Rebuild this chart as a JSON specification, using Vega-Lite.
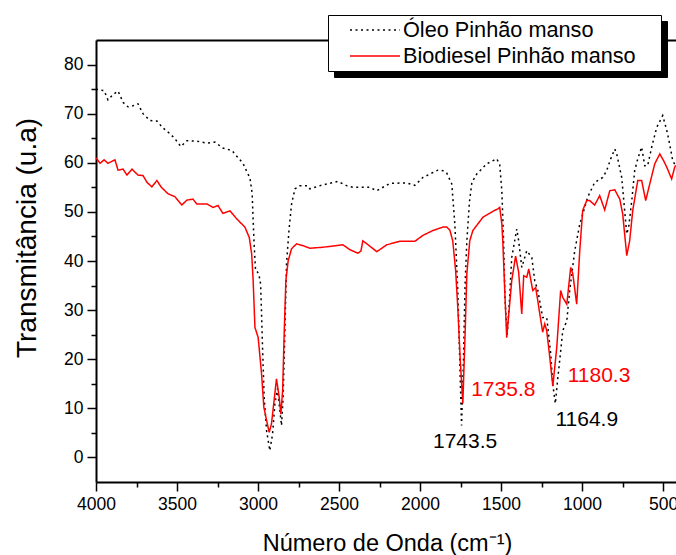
{
  "$schema": "https://vega.github.io/schema/vega-lite/v6.json",
  "width": 580,
  "height": 442,
  "autosize": {"type": "none"},
  "padding": {"left": 96, "top": 40, "right": 0, "bottom": 73},
  "config": {
    "view": {"stroke": null},
    "axis": {"grid": false, "domainColor": "black", "tickColor": "black", "labelColor": "black", "titleColor": "black", "labelFont": "Liberation Sans", "titleFont": "Liberation Sans", "titleFontWeight": "normal", "domainWidth": 2, "tickWidth": 1.5, "labelFontSize": 17.5, "titleFontSize": 23.5}
  },
  "datasets": {
    "spectra": [
      {"series": "Óleo Pinhão manso", "wavenumber": 4000, "transmittance": 75},
      {"series": "Óleo Pinhão manso", "wavenumber": 3975, "transmittance": 74.8},
      {"series": "Óleo Pinhão manso", "wavenumber": 3950, "transmittance": 74.7},
      {"series": "Óleo Pinhão manso", "wavenumber": 3926, "transmittance": 72.8},
      {"series": "Óleo Pinhão manso", "wavenumber": 3895, "transmittance": 73.9},
      {"series": "Óleo Pinhão manso", "wavenumber": 3864, "transmittance": 74.6},
      {"series": "Óleo Pinhão manso", "wavenumber": 3833, "transmittance": 72.3},
      {"series": "Óleo Pinhão manso", "wavenumber": 3803, "transmittance": 71.4},
      {"series": "Óleo Pinhão manso", "wavenumber": 3772, "transmittance": 71.6},
      {"series": "Óleo Pinhão manso", "wavenumber": 3741, "transmittance": 72},
      {"series": "Óleo Pinhão manso", "wavenumber": 3710, "transmittance": 70},
      {"series": "Óleo Pinhão manso", "wavenumber": 3667, "transmittance": 68.6},
      {"series": "Óleo Pinhão manso", "wavenumber": 3624, "transmittance": 68.5},
      {"series": "Óleo Pinhão manso", "wavenumber": 3587, "transmittance": 67.1},
      {"series": "Óleo Pinhão manso", "wavenumber": 3543, "transmittance": 65.9},
      {"series": "Óleo Pinhão manso", "wavenumber": 3513, "transmittance": 64.9},
      {"series": "Óleo Pinhão manso", "wavenumber": 3476, "transmittance": 63.3},
      {"series": "Óleo Pinhão manso", "wavenumber": 3439, "transmittance": 64.5},
      {"series": "Óleo Pinhão manso", "wavenumber": 3377, "transmittance": 64.4},
      {"series": "Óleo Pinhão manso", "wavenumber": 3315, "transmittance": 64},
      {"series": "Óleo Pinhão manso", "wavenumber": 3266, "transmittance": 64.2},
      {"series": "Óleo Pinhão manso", "wavenumber": 3217, "transmittance": 63},
      {"series": "Óleo Pinhão manso", "wavenumber": 3161, "transmittance": 62.5},
      {"series": "Óleo Pinhão manso", "wavenumber": 3130, "transmittance": 61.3},
      {"series": "Óleo Pinhão manso", "wavenumber": 3093, "transmittance": 59.9},
      {"series": "Óleo Pinhão manso", "wavenumber": 3062, "transmittance": 57.7},
      {"series": "Óleo Pinhão manso", "wavenumber": 3050, "transmittance": 57},
      {"series": "Óleo Pinhão manso", "wavenumber": 3036, "transmittance": 53.7},
      {"series": "Óleo Pinhão manso", "wavenumber": 3030, "transmittance": 48.2},
      {"series": "Óleo Pinhão manso", "wavenumber": 3023, "transmittance": 42.8},
      {"series": "Óleo Pinhão manso", "wavenumber": 3015, "transmittance": 38},
      {"series": "Óleo Pinhão manso", "wavenumber": 3005, "transmittance": 37.8},
      {"series": "Óleo Pinhão manso", "wavenumber": 2995, "transmittance": 37.4},
      {"series": "Óleo Pinhão manso", "wavenumber": 2984, "transmittance": 35.3},
      {"series": "Óleo Pinhão manso", "wavenumber": 2978, "transmittance": 29.2},
      {"series": "Óleo Pinhão manso", "wavenumber": 2972, "transmittance": 22.4},
      {"series": "Óleo Pinhão manso", "wavenumber": 2962, "transmittance": 12.2},
      {"series": "Óleo Pinhão manso", "wavenumber": 2947, "transmittance": 5.4},
      {"series": "Óleo Pinhão manso", "wavenumber": 2927, "transmittance": 1.4},
      {"series": "Óleo Pinhão manso", "wavenumber": 2910, "transmittance": 4.8},
      {"series": "Óleo Pinhão manso", "wavenumber": 2896, "transmittance": 10.9},
      {"series": "Óleo Pinhão manso", "wavenumber": 2880, "transmittance": 14},
      {"series": "Óleo Pinhão manso", "wavenumber": 2855, "transmittance": 6.5},
      {"series": "Óleo Pinhão manso", "wavenumber": 2845, "transmittance": 12.2},
      {"series": "Óleo Pinhão manso", "wavenumber": 2834, "transmittance": 25.8},
      {"series": "Óleo Pinhão manso", "wavenumber": 2824, "transmittance": 39.4},
      {"series": "Óleo Pinhão manso", "wavenumber": 2809, "transmittance": 46.2},
      {"series": "Óleo Pinhão manso", "wavenumber": 2793, "transmittance": 51.6},
      {"series": "Óleo Pinhão manso", "wavenumber": 2772, "transmittance": 54.7},
      {"series": "Óleo Pinhão manso", "wavenumber": 2742, "transmittance": 55.3},
      {"series": "Óleo Pinhão manso", "wavenumber": 2692, "transmittance": 55.3},
      {"series": "Óleo Pinhão manso", "wavenumber": 2680, "transmittance": 54.7},
      {"series": "Óleo Pinhão manso", "wavenumber": 2600, "transmittance": 55.5},
      {"series": "Óleo Pinhão manso", "wavenumber": 2507, "transmittance": 56.2},
      {"series": "Óleo Pinhão manso", "wavenumber": 2450, "transmittance": 55.3},
      {"series": "Óleo Pinhão manso", "wavenumber": 2415, "transmittance": 55},
      {"series": "Óleo Pinhão manso", "wavenumber": 2310, "transmittance": 55},
      {"series": "Óleo Pinhão manso", "wavenumber": 2267, "transmittance": 54.3},
      {"series": "Óleo Pinhão manso", "wavenumber": 2186, "transmittance": 55.8},
      {"series": "Óleo Pinhão manso", "wavenumber": 2082, "transmittance": 55.9},
      {"series": "Óleo Pinhão manso", "wavenumber": 2032, "transmittance": 55.4},
      {"series": "Óleo Pinhão manso", "wavenumber": 1983, "transmittance": 57},
      {"series": "Óleo Pinhão manso", "wavenumber": 1890, "transmittance": 58.5},
      {"series": "Óleo Pinhão manso", "wavenumber": 1859, "transmittance": 58.4},
      {"series": "Óleo Pinhão manso", "wavenumber": 1835, "transmittance": 57.9},
      {"series": "Óleo Pinhão manso", "wavenumber": 1804, "transmittance": 55.7},
      {"series": "Óleo Pinhão manso", "wavenumber": 1785, "transmittance": 47.5},
      {"series": "Óleo Pinhão manso", "wavenumber": 1767, "transmittance": 34},
      {"series": "Óleo Pinhão manso", "wavenumber": 1755, "transmittance": 20},
      {"series": "Óleo Pinhão manso", "wavenumber": 1743.5, "transmittance": 6.5},
      {"series": "Óleo Pinhão manso", "wavenumber": 1732, "transmittance": 20},
      {"series": "Óleo Pinhão manso", "wavenumber": 1722, "transmittance": 35},
      {"series": "Óleo Pinhão manso", "wavenumber": 1711, "transmittance": 44.1},
      {"series": "Óleo Pinhão manso", "wavenumber": 1695, "transmittance": 52},
      {"series": "Óleo Pinhão manso", "wavenumber": 1680, "transmittance": 56},
      {"series": "Óleo Pinhão manso", "wavenumber": 1650, "transmittance": 57.7},
      {"series": "Óleo Pinhão manso", "wavenumber": 1588, "transmittance": 59.8},
      {"series": "Óleo Pinhão manso", "wavenumber": 1526, "transmittance": 60.8},
      {"series": "Óleo Pinhão manso", "wavenumber": 1508, "transmittance": 59.6},
      {"series": "Óleo Pinhão manso", "wavenumber": 1495, "transmittance": 54.3},
      {"series": "Óleo Pinhão manso", "wavenumber": 1485, "transmittance": 45},
      {"series": "Óleo Pinhão manso", "wavenumber": 1475, "transmittance": 32},
      {"series": "Óleo Pinhão manso", "wavenumber": 1462, "transmittance": 25},
      {"series": "Óleo Pinhão manso", "wavenumber": 1448, "transmittance": 32},
      {"series": "Óleo Pinhão manso", "wavenumber": 1434, "transmittance": 40.7},
      {"series": "Óleo Pinhão manso", "wavenumber": 1403, "transmittance": 46.5},
      {"series": "Óleo Pinhão manso", "wavenumber": 1391, "transmittance": 44.1},
      {"series": "Óleo Pinhão manso", "wavenumber": 1372, "transmittance": 38.7},
      {"series": "Óleo Pinhão manso", "wavenumber": 1341, "transmittance": 42.1},
      {"series": "Óleo Pinhão manso", "wavenumber": 1310, "transmittance": 40.7},
      {"series": "Óleo Pinhão manso", "wavenumber": 1292, "transmittance": 36},
      {"series": "Óleo Pinhão manso", "wavenumber": 1273, "transmittance": 34},
      {"series": "Óleo Pinhão manso", "wavenumber": 1243, "transmittance": 28.5},
      {"series": "Óleo Pinhão manso", "wavenumber": 1218, "transmittance": 28.5},
      {"series": "Óleo Pinhão manso", "wavenumber": 1193, "transmittance": 21},
      {"series": "Óleo Pinhão manso", "wavenumber": 1181, "transmittance": 15},
      {"series": "Óleo Pinhão manso", "wavenumber": 1164.9, "transmittance": 11},
      {"series": "Óleo Pinhão manso", "wavenumber": 1150, "transmittance": 16},
      {"series": "Óleo Pinhão manso", "wavenumber": 1138, "transmittance": 19.7},
      {"series": "Óleo Pinhão manso", "wavenumber": 1119, "transmittance": 25.8},
      {"series": "Óleo Pinhão manso", "wavenumber": 1094, "transmittance": 27.8},
      {"series": "Óleo Pinhão manso", "wavenumber": 1076, "transmittance": 34},
      {"series": "Óleo Pinhão manso", "wavenumber": 1045, "transmittance": 42.1},
      {"series": "Óleo Pinhão manso", "wavenumber": 1014, "transmittance": 47.5},
      {"series": "Óleo Pinhão manso", "wavenumber": 965, "transmittance": 53},
      {"series": "Óleo Pinhão manso", "wavenumber": 922, "transmittance": 56},
      {"series": "Óleo Pinhão manso", "wavenumber": 872, "transmittance": 57},
      {"series": "Óleo Pinhão manso", "wavenumber": 848, "transmittance": 58.4},
      {"series": "Óleo Pinhão manso", "wavenumber": 823, "transmittance": 60.8},
      {"series": "Óleo Pinhão manso", "wavenumber": 798, "transmittance": 62.8},
      {"series": "Óleo Pinhão manso", "wavenumber": 786, "transmittance": 61.8},
      {"series": "Óleo Pinhão manso", "wavenumber": 755, "transmittance": 57},
      {"series": "Óleo Pinhão manso", "wavenumber": 737, "transmittance": 50.3},
      {"series": "Óleo Pinhão manso", "wavenumber": 724, "transmittance": 45.5},
      {"series": "Óleo Pinhão manso", "wavenumber": 712, "transmittance": 46.9},
      {"series": "Óleo Pinhão manso", "wavenumber": 693, "transmittance": 52.3},
      {"series": "Óleo Pinhão manso", "wavenumber": 675, "transmittance": 58.4},
      {"series": "Óleo Pinhão manso", "wavenumber": 656, "transmittance": 60.8},
      {"series": "Óleo Pinhão manso", "wavenumber": 632, "transmittance": 63.2},
      {"series": "Óleo Pinhão manso", "wavenumber": 613, "transmittance": 59.4},
      {"series": "Óleo Pinhão manso", "wavenumber": 595, "transmittance": 59.4},
      {"series": "Óleo Pinhão manso", "wavenumber": 570, "transmittance": 63.2},
      {"series": "Óleo Pinhão manso", "wavenumber": 539, "transmittance": 67.2},
      {"series": "Óleo Pinhão manso", "wavenumber": 502, "transmittance": 69.6},
      {"series": "Óleo Pinhão manso", "wavenumber": 477, "transmittance": 66.6},
      {"series": "Óleo Pinhão manso", "wavenumber": 459, "transmittance": 63.8},
      {"series": "Óleo Pinhão manso", "wavenumber": 440, "transmittance": 60.4},
      {"series": "Óleo Pinhão manso", "wavenumber": 422, "transmittance": 59.4},
      {"series": "Biodiesel Pinhão manso", "wavenumber": 4000, "transmittance": 61},
      {"series": "Biodiesel Pinhão manso", "wavenumber": 3975, "transmittance": 59.9},
      {"series": "Biodiesel Pinhão manso", "wavenumber": 3950, "transmittance": 60.6},
      {"series": "Biodiesel Pinhão manso", "wavenumber": 3926, "transmittance": 59.9},
      {"series": "Biodiesel Pinhão manso", "wavenumber": 3883, "transmittance": 60.6},
      {"series": "Biodiesel Pinhão manso", "wavenumber": 3864, "transmittance": 58.5},
      {"series": "Biodiesel Pinhão manso", "wavenumber": 3833, "transmittance": 58.7},
      {"series": "Biodiesel Pinhão manso", "wavenumber": 3809, "transmittance": 57.5},
      {"series": "Biodiesel Pinhão manso", "wavenumber": 3778, "transmittance": 58.7},
      {"series": "Biodiesel Pinhão manso", "wavenumber": 3741, "transmittance": 57.5},
      {"series": "Biodiesel Pinhão manso", "wavenumber": 3710, "transmittance": 57.4},
      {"series": "Biodiesel Pinhão manso", "wavenumber": 3685, "transmittance": 56},
      {"series": "Biodiesel Pinhão manso", "wavenumber": 3655, "transmittance": 55.1},
      {"series": "Biodiesel Pinhão manso", "wavenumber": 3624, "transmittance": 56.4},
      {"series": "Biodiesel Pinhão manso", "wavenumber": 3599, "transmittance": 55.1},
      {"series": "Biodiesel Pinhão manso", "wavenumber": 3556, "transmittance": 53.7},
      {"series": "Biodiesel Pinhão manso", "wavenumber": 3513, "transmittance": 53.1},
      {"series": "Biodiesel Pinhão manso", "wavenumber": 3470, "transmittance": 51.4},
      {"series": "Biodiesel Pinhão manso", "wavenumber": 3439, "transmittance": 52.4},
      {"series": "Biodiesel Pinhão manso", "wavenumber": 3402, "transmittance": 52.6},
      {"series": "Biodiesel Pinhão manso", "wavenumber": 3377, "transmittance": 51.6},
      {"series": "Biodiesel Pinhão manso", "wavenumber": 3315, "transmittance": 51.6},
      {"series": "Biodiesel Pinhão manso", "wavenumber": 3278, "transmittance": 50.9},
      {"series": "Biodiesel Pinhão manso", "wavenumber": 3247, "transmittance": 51.3},
      {"series": "Biodiesel Pinhão manso", "wavenumber": 3217, "transmittance": 49.7},
      {"series": "Biodiesel Pinhão manso", "wavenumber": 3173, "transmittance": 50.2},
      {"series": "Biodiesel Pinhão manso", "wavenumber": 3132, "transmittance": 48.6},
      {"series": "Biodiesel Pinhão manso", "wavenumber": 3081, "transmittance": 46.9},
      {"series": "Biodiesel Pinhão manso", "wavenumber": 3054, "transmittance": 44.8},
      {"series": "Biodiesel Pinhão manso", "wavenumber": 3039, "transmittance": 41.4},
      {"series": "Biodiesel Pinhão manso", "wavenumber": 3030, "transmittance": 36},
      {"series": "Biodiesel Pinhão manso", "wavenumber": 3019, "transmittance": 26.5},
      {"series": "Biodiesel Pinhão manso", "wavenumber": 2999, "transmittance": 24.4},
      {"series": "Biodiesel Pinhão manso", "wavenumber": 2978, "transmittance": 17},
      {"series": "Biodiesel Pinhão manso", "wavenumber": 2964, "transmittance": 10.2},
      {"series": "Biodiesel Pinhão manso", "wavenumber": 2931, "transmittance": 5.1},
      {"series": "Biodiesel Pinhão manso", "wavenumber": 2917, "transmittance": 6.8},
      {"series": "Biodiesel Pinhão manso", "wavenumber": 2886, "transmittance": 16},
      {"series": "Biodiesel Pinhão manso", "wavenumber": 2869, "transmittance": 12.2},
      {"series": "Biodiesel Pinhão manso", "wavenumber": 2859, "transmittance": 8.8},
      {"series": "Biodiesel Pinhão manso", "wavenumber": 2848, "transmittance": 13.6},
      {"series": "Biodiesel Pinhão manso", "wavenumber": 2838, "transmittance": 25.8},
      {"series": "Biodiesel Pinhão manso", "wavenumber": 2828, "transmittance": 36},
      {"series": "Biodiesel Pinhão manso", "wavenumber": 2814, "transmittance": 40},
      {"series": "Biodiesel Pinhão manso", "wavenumber": 2793, "transmittance": 42.5},
      {"series": "Biodiesel Pinhão manso", "wavenumber": 2762, "transmittance": 43.5},
      {"series": "Biodiesel Pinhão manso", "wavenumber": 2721, "transmittance": 43.1},
      {"series": "Biodiesel Pinhão manso", "wavenumber": 2680, "transmittance": 42.6},
      {"series": "Biodiesel Pinhão manso", "wavenumber": 2600, "transmittance": 42.8},
      {"series": "Biodiesel Pinhão manso", "wavenumber": 2476, "transmittance": 43.3},
      {"series": "Biodiesel Pinhão manso", "wavenumber": 2433, "transmittance": 42.3},
      {"series": "Biodiesel Pinhão manso", "wavenumber": 2384, "transmittance": 41.6},
      {"series": "Biodiesel Pinhão manso", "wavenumber": 2365, "transmittance": 42},
      {"series": "Biodiesel Pinhão manso", "wavenumber": 2353, "transmittance": 44.1},
      {"series": "Biodiesel Pinhão manso", "wavenumber": 2328, "transmittance": 43.5},
      {"series": "Biodiesel Pinhão manso", "wavenumber": 2267, "transmittance": 41.9},
      {"series": "Biodiesel Pinhão manso", "wavenumber": 2205, "transmittance": 43.3},
      {"series": "Biodiesel Pinhão manso", "wavenumber": 2125, "transmittance": 44},
      {"series": "Biodiesel Pinhão manso", "wavenumber": 2032, "transmittance": 44},
      {"series": "Biodiesel Pinhão manso", "wavenumber": 1983, "transmittance": 45.2},
      {"series": "Biodiesel Pinhão manso", "wavenumber": 1921, "transmittance": 46.2},
      {"series": "Biodiesel Pinhão manso", "wavenumber": 1859, "transmittance": 46.9},
      {"series": "Biodiesel Pinhão manso", "wavenumber": 1835, "transmittance": 46.9},
      {"series": "Biodiesel Pinhão manso", "wavenumber": 1816, "transmittance": 46.3},
      {"series": "Biodiesel Pinhão manso", "wavenumber": 1798, "transmittance": 44.1},
      {"series": "Biodiesel Pinhão manso", "wavenumber": 1780, "transmittance": 38},
      {"series": "Biodiesel Pinhão manso", "wavenumber": 1767, "transmittance": 30.6},
      {"series": "Biodiesel Pinhão manso", "wavenumber": 1752, "transmittance": 20},
      {"series": "Biodiesel Pinhão manso", "wavenumber": 1735.8, "transmittance": 11},
      {"series": "Biodiesel Pinhão manso", "wavenumber": 1722, "transmittance": 25},
      {"series": "Biodiesel Pinhão manso", "wavenumber": 1711, "transmittance": 37.4},
      {"series": "Biodiesel Pinhão manso", "wavenumber": 1693, "transmittance": 44.1},
      {"series": "Biodiesel Pinhão manso", "wavenumber": 1674, "transmittance": 46.2},
      {"series": "Biodiesel Pinhão manso", "wavenumber": 1612, "transmittance": 48.9},
      {"series": "Biodiesel Pinhão manso", "wavenumber": 1539, "transmittance": 50.3},
      {"series": "Biodiesel Pinhão manso", "wavenumber": 1520, "transmittance": 50.6},
      {"series": "Biodiesel Pinhão manso", "wavenumber": 1508, "transmittance": 50.9},
      {"series": "Biodiesel Pinhão manso", "wavenumber": 1495, "transmittance": 47.5},
      {"series": "Biodiesel Pinhão manso", "wavenumber": 1489, "transmittance": 44},
      {"series": "Biodiesel Pinhão manso", "wavenumber": 1477, "transmittance": 34},
      {"series": "Biodiesel Pinhão manso", "wavenumber": 1465, "transmittance": 24.4},
      {"series": "Biodiesel Pinhão manso", "wavenumber": 1450, "transmittance": 30},
      {"series": "Biodiesel Pinhão manso", "wavenumber": 1434, "transmittance": 36},
      {"series": "Biodiesel Pinhão manso", "wavenumber": 1410, "transmittance": 41},
      {"series": "Biodiesel Pinhão manso", "wavenumber": 1391, "transmittance": 37.7},
      {"series": "Biodiesel Pinhão manso", "wavenumber": 1372, "transmittance": 29.2},
      {"series": "Biodiesel Pinhão manso", "wavenumber": 1360, "transmittance": 37},
      {"series": "Biodiesel Pinhão manso", "wavenumber": 1341, "transmittance": 36.7},
      {"series": "Biodiesel Pinhão manso", "wavenumber": 1329, "transmittance": 38.4},
      {"series": "Biodiesel Pinhão manso", "wavenumber": 1304, "transmittance": 34},
      {"series": "Biodiesel Pinhão manso", "wavenumber": 1286, "transmittance": 34.6},
      {"series": "Biodiesel Pinhão manso", "wavenumber": 1267, "transmittance": 30.6},
      {"series": "Biodiesel Pinhão manso", "wavenumber": 1243, "transmittance": 25.5},
      {"series": "Biodiesel Pinhão manso", "wavenumber": 1230, "transmittance": 27.2},
      {"series": "Biodiesel Pinhão manso", "wavenumber": 1218, "transmittance": 25.8},
      {"series": "Biodiesel Pinhão manso", "wavenumber": 1199, "transmittance": 20.4},
      {"series": "Biodiesel Pinhão manso", "wavenumber": 1180.3, "transmittance": 14.5},
      {"series": "Biodiesel Pinhão manso", "wavenumber": 1156, "transmittance": 22.4},
      {"series": "Biodiesel Pinhão manso", "wavenumber": 1132, "transmittance": 34},
      {"series": "Biodiesel Pinhão manso", "wavenumber": 1119, "transmittance": 32.6},
      {"series": "Biodiesel Pinhão manso", "wavenumber": 1094, "transmittance": 31.2},
      {"series": "Biodiesel Pinhão manso", "wavenumber": 1070, "transmittance": 38.7},
      {"series": "Biodiesel Pinhão manso", "wavenumber": 1057, "transmittance": 37.4},
      {"series": "Biodiesel Pinhão manso", "wavenumber": 1033, "transmittance": 31.2},
      {"series": "Biodiesel Pinhão manso", "wavenumber": 1014, "transmittance": 42.1},
      {"series": "Biodiesel Pinhão manso", "wavenumber": 996, "transmittance": 50.3},
      {"series": "Biodiesel Pinhão manso", "wavenumber": 971, "transmittance": 52.3},
      {"series": "Biodiesel Pinhão manso", "wavenumber": 953, "transmittance": 52.3},
      {"series": "Biodiesel Pinhão manso", "wavenumber": 922, "transmittance": 51.4},
      {"series": "Biodiesel Pinhão manso", "wavenumber": 891, "transmittance": 53.3},
      {"series": "Biodiesel Pinhão manso", "wavenumber": 860, "transmittance": 50.4},
      {"series": "Biodiesel Pinhão manso", "wavenumber": 829, "transmittance": 54.3},
      {"series": "Biodiesel Pinhão manso", "wavenumber": 798, "transmittance": 54.5},
      {"series": "Biodiesel Pinhão manso", "wavenumber": 767, "transmittance": 52.6},
      {"series": "Biodiesel Pinhão manso", "wavenumber": 749, "transmittance": 49.6},
      {"series": "Biodiesel Pinhão manso", "wavenumber": 724, "transmittance": 41.1},
      {"series": "Biodiesel Pinhão manso", "wavenumber": 706, "transmittance": 44.1},
      {"series": "Biodiesel Pinhão manso", "wavenumber": 687, "transmittance": 50.3},
      {"series": "Biodiesel Pinhão manso", "wavenumber": 656, "transmittance": 56.4},
      {"series": "Biodiesel Pinhão manso", "wavenumber": 632, "transmittance": 56.4},
      {"series": "Biodiesel Pinhão manso", "wavenumber": 607, "transmittance": 52.3},
      {"series": "Biodiesel Pinhão manso", "wavenumber": 582, "transmittance": 55.7},
      {"series": "Biodiesel Pinhão manso", "wavenumber": 551, "transmittance": 59.8},
      {"series": "Biodiesel Pinhão manso", "wavenumber": 520, "transmittance": 61.8},
      {"series": "Biodiesel Pinhão manso", "wavenumber": 496, "transmittance": 60.4},
      {"series": "Biodiesel Pinhão manso", "wavenumber": 477, "transmittance": 59.1},
      {"series": "Biodiesel Pinhão manso", "wavenumber": 447, "transmittance": 56.7},
      {"series": "Biodiesel Pinhão manso", "wavenumber": 428, "transmittance": 59.1},
      {"series": "Biodiesel Pinhão manso", "wavenumber": 422, "transmittance": 59.5}
    ],
    "peaks": [
      {"series": "Óleo Pinhão manso", "label": "1743.5", "wavenumber": 1722, "transmittance": 3.2},
      {"series": "Óleo Pinhão manso", "label": "1164.9", "wavenumber": 971, "transmittance": 7.7},
      {"series": "Biodiesel Pinhão manso", "label": "1735.8", "wavenumber": 1486, "transmittance": 13.7},
      {"series": "Biodiesel Pinhão manso", "label": "1180.3", "wavenumber": 895, "transmittance": 16.5}
    ]
  },
  "layer": [
    {
      "data": {"name": "spectra"},
      "mark": {"type": "line", "strokeWidth": 1.5},
      "encoding": {
        "x": {
          "field": "wavenumber", "type": "quantitative",
          "scale": {"domain": [420, 4000], "reverse": true, "nice": false, "zero": false},
          "axis": {"orient": "bottom", "values": [4000, 3500, 3000, 2500, 2000, 1500, 1000, 500], "format": "d", "tickSize": 9, "labelPadding": 4, "title": "Número de Onda (cm⁻¹)", "titleX": 291, "titleY": 68, "titleBaseline": "alphabetic", "titleAlign": "center", "labelFlush": false, "labelOverlap": false}
        },
        "y": {
          "field": "transmittance", "type": "quantitative",
          "scale": {"domain": [-5, 85], "nice": false, "zero": false},
          "axis": {"orient": "left", "values": [0, 10, 20, 30, 40, 50, 60, 70, 80], "tickSize": 9, "labelPadding": 4, "title": "Transmitância (u.a)", "titleFontSize": 28, "titleX": -61, "titleY": 197.5, "titleAngle": -90, "titleBaseline": "alphabetic", "titleAlign": "center", "labelOverlap": false}
        },
        "color": {
          "field": "series", "type": "nominal",
          "scale": {"domain": ["Óleo Pinhão manso", "Biodiesel Pinhão manso"], "range": ["black", "#ff0000"]},
          "legend": {"orient": "none", "legendX": 232, "legendY": -25, "zindex": 2, "title": "MM", "titleOrient": "right", "titleFontSize": 10, "titleColor": "white", "titlePadding": 5, "fillColor": "white", "strokeColor": "black", "padding": 3, "symbolType": "stroke", "symbolSize": 2500, "symbolStrokeWidth": 1.5, "symbolOffset": 18, "labelOffset": 2, "clipHeight": 24, "rowPadding": 2, "labelFontSize": 21.7, "labelFont": "Liberation Sans", "labelColor": "black", "labelLimit": 500}
        },
        "strokeDash": {
          "field": "series", "type": "nominal",
          "scale": {"domain": ["Óleo Pinhão manso", "Biodiesel Pinhão manso"], "range": [[2, 3.5], [1, 0]]},
          "legend": {"orient": "none", "legendX": 232, "legendY": -25, "zindex": 2, "title": "MM", "titleOrient": "right", "titleFontSize": 10, "titleColor": "white", "titlePadding": 5, "fillColor": "white", "strokeColor": "black", "padding": 3, "symbolType": "stroke", "symbolSize": 2500, "symbolStrokeWidth": 1.5, "symbolOffset": 18, "labelOffset": 2, "clipHeight": 24, "rowPadding": 2, "labelFontSize": 21.7, "labelFont": "Liberation Sans", "labelColor": "black", "labelLimit": 500}
        }
      }
    },
    {
      "data": {"name": "peaks"},
      "transform": [{"filter": "datum.series === 'Óleo Pinhão manso'"}],
      "mark": {"type": "text", "color": "black", "fontSize": 21, "font": "Liberation Sans", "align": "center", "baseline": "middle"},
      "encoding": {
        "x": {"field": "wavenumber", "type": "quantitative", "axis": {"orient": "bottom", "values": [3750, 3250, 2750, 2250, 1750, 1250, 750], "tickSize": 5, "labels": false, "domain": false, "title": null}},
        "y": {"field": "transmittance", "type": "quantitative", "axis": {"orient": "left", "values": [5, 15, 25, 35, 45, 55, 65, 75], "tickSize": 5, "labels": false, "domain": false, "title": null}},
        "text": {"field": "label", "type": "nominal"}
      }
    },
    {
      "data": {"name": "peaks"},
      "transform": [{"filter": "datum.series === 'Biodiesel Pinhão manso'"}],
      "mark": {"type": "text", "color": "#ff0000", "fontSize": 21, "font": "Liberation Sans", "align": "center", "baseline": "middle"},
      "encoding": {
        "x": {"field": "wavenumber", "type": "quantitative", "axis": {"orient": "top", "ticks": false, "labels": false, "domain": true, "title": null}},
        "y": {"field": "transmittance", "type": "quantitative", "axis": null},
        "text": {"field": "label", "type": "nominal"},
        "opacity": {
          "field": "label", "type": "ordinal",
          "scale": {"range": [1, 1]},
          "legend": {"orient": "none", "legendX": 238, "legendY": -19, "zindex": 1, "title": "MM", "titleOrient": "right", "titleFontSize": 10, "titleColor": "black", "titlePadding": 5, "fillColor": "black", "strokeColor": "black", "padding": 3, "symbolType": "stroke", "symbolSize": 2500, "symbolStrokeWidth": 1.5, "symbolStrokeColor": "black", "symbolFillColor": "black", "symbolOffset": 18, "labelOffset": 2, "clipHeight": 24, "rowPadding": 2, "labelFontSize": 21.7, "labelFont": "Liberation Sans", "labelColor": "black", "labelLimit": 500, "labelExpr": "datum.label == '1180.3' ? 'Óleo Pinhão manso' : 'Biodiesel Pinhão manso'"}
        }
      }
    }
  ],
  "resolve": {"axis": {"x": "independent", "y": "independent"}}
}
